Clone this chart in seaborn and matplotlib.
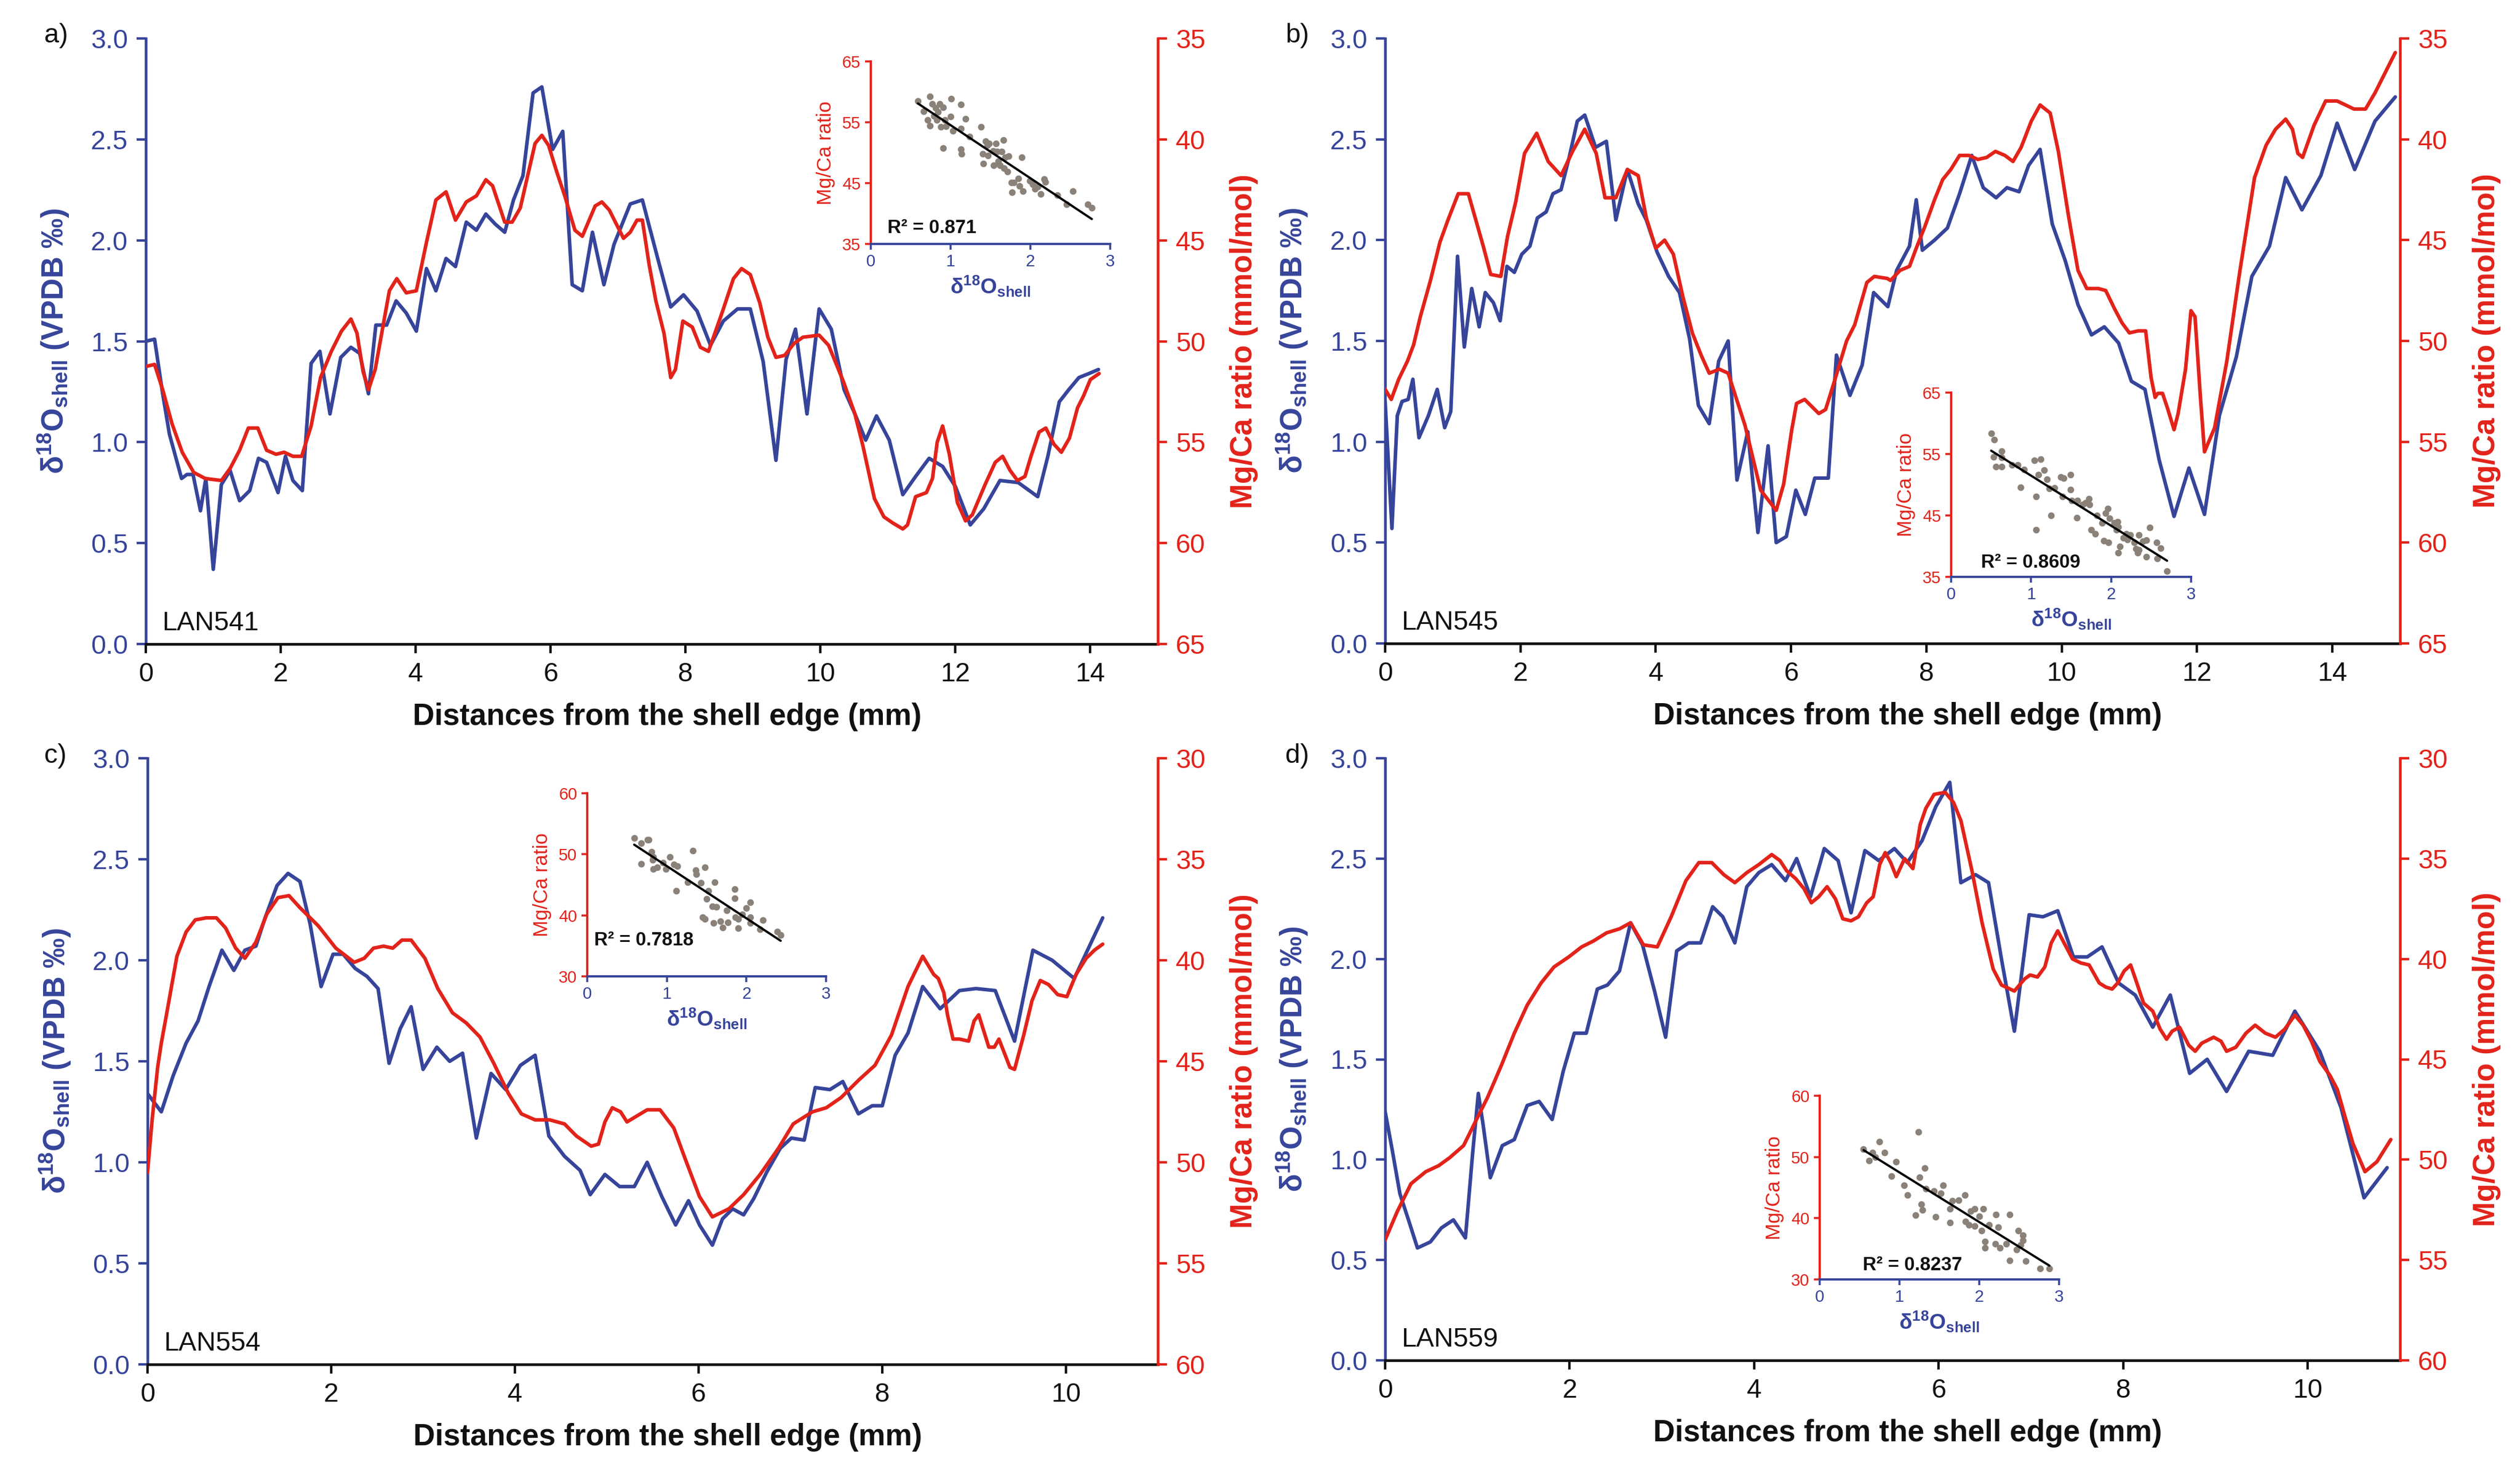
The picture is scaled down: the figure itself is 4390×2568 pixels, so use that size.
import numpy as np
import pandas as pd
import matplotlib
matplotlib.use("Agg")
import matplotlib.pyplot as plt
import seaborn as sns

# ---------------- DATA ----------------
# Panel a) LAN541
a_d18O = [(0,1.50),(0.13,1.51),(0.25,1.24),(0.35,1.04),(0.53,0.82),(0.61,0.84),(0.70,0.84),(0.81,0.66),(0.89,0.82),(1.00,0.37),
          (1.12,0.79),(1.25,0.86),(1.39,0.71),(1.54,0.76),(1.67,0.92),(1.79,0.90),(1.96,0.75),(2.07,0.93),(2.18,0.81),(2.32,0.76),
          (2.45,1.39),(2.58,1.45),(2.73,1.14),(2.89,1.42),(3.04,1.47),(3.17,1.44),(3.30,1.24),(3.41,1.58),(3.57,1.58),(3.71,1.70),
          (3.86,1.64),(4.01,1.55),(4.16,1.86),(4.30,1.75),(4.45,1.91),(4.59,1.87),(4.75,2.09),(4.90,2.05),(5.04,2.13),(5.18,2.08),
          (5.32,2.04),(5.45,2.20),(5.59,2.32),(5.74,2.73),(5.87,2.76),(6.03,2.45),(6.18,2.54),(6.32,1.78),(6.47,1.75),(6.62,2.04),
          (6.79,1.78),(6.94,1.98),(7.18,2.18),(7.36,2.20),(7.58,1.92),(7.78,1.67),(7.97,1.73),(8.17,1.65),(8.37,1.48),(8.56,1.60),
          (8.77,1.66),(8.96,1.66),(9.15,1.40),(9.34,0.91),(9.49,1.41),(9.63,1.56),(9.80,1.14),(9.98,1.66),(10.16,1.56),(10.35,1.26),
          (10.51,1.14),(10.67,1.01),(10.83,1.13),(11.02,1.01),(11.22,0.74),(11.41,0.83),(11.61,0.92),(11.81,0.88),(12.00,0.78),(12.22,0.59),
          (12.42,0.67),(12.66,0.81),(12.93,0.80),(13.22,0.73),(13.37,0.93),(13.54,1.20),(13.68,1.26),(13.83,1.32),(13.98,1.34),(14.12,1.36)]
a_mgca = [(0,51.25),(0.13,51.15),(0.25,52.4),(0.39,54.1),(0.54,55.5),(0.71,56.5),(0.88,56.8),(1.12,56.9),(1.25,56.3),(1.39,55.4),
          (1.52,54.3),(1.66,54.3),(1.79,55.4),(1.93,55.6),(2.05,55.5),(2.18,55.7),(2.31,55.7),(2.45,54.2),(2.59,51.8),(2.75,50.5),
          (2.90,49.5),(3.04,48.9),(3.13,49.6),(3.22,51.5),(3.30,52.4),(3.40,51.4),(3.61,47.5),(3.72,46.9),(3.86,47.6),(4.01,47.5),
          (4.16,45.1),(4.30,43.0),(4.45,42.6),(4.59,44.0),(4.75,43.1),(4.90,42.8),(5.04,42.0),(5.14,42.3),(5.32,44.1),(5.43,44.1),
          (5.55,43.4),(5.77,40.2),(5.87,39.8),(5.97,40.3),(6.09,41.6),(6.21,42.8),(6.36,44.5),(6.47,44.8),(6.66,43.3),(6.76,43.1),
          (6.87,43.5),(7.08,44.9),(7.18,44.6),(7.28,44.0),(7.36,44.0),(7.46,46.2),(7.56,48.0),(7.62,48.8),(7.68,49.6),(7.78,51.8),
          (7.85,51.4),(7.96,49.0),(8.10,49.3),(8.22,50.3),(8.34,50.5),(8.54,48.6),(8.71,46.9),(8.83,46.4),(8.96,46.7),(9.10,48.1),
          (9.22,49.8),(9.34,50.8),(9.47,50.7),(9.61,50.1),(9.74,49.8),(9.98,49.7),(10.12,50.2),(10.34,52.0),(10.51,53.6),(10.63,55.2),
          (10.80,57.8),(10.94,58.7),(11.07,59.0),(11.22,59.3),(11.29,59.1),(11.41,57.7),(11.57,57.5),(11.66,56.8),(11.73,55.0),(11.81,54.2),
          (11.91,55.6),(12.03,58.0),(12.15,58.9),(12.25,58.6),(12.44,57.1),(12.59,56.0),(12.70,55.7),(12.81,56.4),(12.92,56.9),(13.03,56.7),
          (13.12,55.7),(13.24,54.5),(13.34,54.3),(13.46,55.1),(13.57,55.5),(13.69,54.8),(13.81,53.3),(13.90,52.7),(14.00,51.9),(14.13,51.6)]
a_scatter = [(0.59,58.5),(0.66,56.8),(0.71,55.4),(0.74,59.2),(0.74,54.4),(0.77,58.0),(0.79,56.0),(0.81,57.4),(0.83,55.4),(0.84,56.7),
             (0.86,58.0),(0.88,54.2),(0.91,57.5),(0.91,50.8),(0.93,55.4),(0.94,54.3),(1.00,55.9),(1.01,58.9),(1.03,53.6),(1.13,57.9),
             (1.13,54.0),(1.13,50.6),(1.14,49.8),(1.19,55.6),(1.24,52.6),(1.38,54.2),(1.40,49.8),(1.41,48.2),(1.44,51.9),(1.46,51.2),
             (1.47,49.5),(1.48,51.5),(1.53,50.3),(1.54,47.9),(1.57,51.5),(1.58,50.2),(1.60,48.6),(1.62,47.9),(1.64,50.2),(1.66,52.1),
             (1.67,47.5),(1.68,49.2),(1.71,46.9),(1.73,49.4),(1.76,45.1),(1.77,43.5),(1.79,45.1),(1.85,45.8),(1.86,44.5),(1.89,49.2),
             (1.91,43.7),(1.99,45.4),(2.03,44.8),(2.06,44.1),(2.09,44.4),(2.13,43.2),(2.17,45.7),(2.19,45.2),(2.34,43.0),(2.45,41.5),
             (2.53,43.7),(2.72,41.5),(2.77,40.9)]

# Panel b) LAN545
b_d18O = [(0,1.20),(0.10,0.57),(0.18,1.13),(0.25,1.20),(0.34,1.21),(0.41,1.31),(0.50,1.02),(0.64,1.13),(0.77,1.26),(0.88,1.07),
          (0.97,1.15),(1.07,1.92),(1.17,1.47),(1.28,1.76),(1.39,1.57),(1.48,1.74),(1.60,1.69),(1.70,1.60),(1.80,1.87),(1.91,1.84),
          (2.02,1.93),(2.14,1.97),(2.25,2.11),(2.38,2.14),(2.48,2.23),(2.60,2.25),(2.72,2.41),(2.84,2.59),(2.95,2.62),(3.11,2.46),
          (3.27,2.49),(3.41,2.10),(3.58,2.35),(3.74,2.18),(3.86,2.10),(4.02,1.94),(4.19,1.82),(4.35,1.74),(4.50,1.51),(4.63,1.18),
          (4.79,1.09),(4.93,1.40),(5.07,1.50),(5.20,0.81),(5.36,1.05),(5.51,0.55),(5.66,0.98),(5.78,0.50),(5.93,0.53),(6.07,0.76),
          (6.21,0.64),(6.35,0.82),(6.55,0.82),(6.67,1.43),(6.87,1.23),(7.05,1.38),(7.22,1.74),(7.43,1.67),(7.56,1.85),(7.75,1.97),
          (7.85,2.20),(7.94,1.95),(8.12,2.00),(8.31,2.06),(8.49,2.23),(8.67,2.42),(8.84,2.26),(9.03,2.21),(9.19,2.26),(9.37,2.24),
          (9.51,2.37),(9.68,2.45),(9.86,2.08),(10.05,1.90),(10.24,1.68),(10.44,1.53),(10.63,1.57),(10.84,1.49),(11.03,1.30),(11.23,1.26),
          (11.44,0.91),(11.66,0.63),(11.88,0.87),(12.11,0.64),(12.33,1.13),(12.58,1.42),(12.81,1.82),(13.07,1.97),(13.31,2.31),(13.55,2.15),
          (13.83,2.32),(14.07,2.58),(14.33,2.35),(14.63,2.59),(14.93,2.71)]
b_mgca = [(0,52.4),(0.09,52.9),(0.20,51.9),(0.33,51.0),(0.42,50.2),(0.52,48.8),(0.67,47.0),(0.81,45.1),(0.94,43.9),(1.08,42.7),
          (1.23,42.7),(1.34,44.0),(1.45,45.3),(1.56,46.7),(1.71,46.8),(1.81,44.8),(1.93,43.1),(2.06,40.7),(2.24,39.7),(2.41,41.1),
          (2.60,41.8),(2.77,40.6),(2.95,39.5),(3.12,40.7),(3.25,42.9),(3.41,42.9),(3.58,41.5),(3.74,41.8),(3.86,43.9),(4.00,45.4),
          (4.13,45.0),(4.26,45.7),(4.40,47.8),(4.54,49.6),(4.67,50.7),(4.79,51.6),(4.94,51.4),(5.07,51.6),(5.32,54.2),(5.55,57.4),
          (5.78,58.4),(5.89,57.1),(6.01,54.4),(6.08,53.1),(6.20,52.9),(6.41,53.6),(6.51,53.4),(6.64,52.0),(6.82,50.0),(6.94,49.2),
          (7.12,47.1),(7.23,46.8),(7.42,46.9),(7.47,47.0),(7.61,46.5),(7.75,46.3),(7.85,45.4),(7.98,44.3),(8.12,43.0),(8.24,42.0),
          (8.36,41.5),(8.49,40.8),(8.63,40.8),(8.76,41.0),(8.89,40.9),(9.02,40.6),(9.16,40.8),(9.28,41.1),(9.40,40.4),(9.55,39.1),
          (9.68,38.3),(9.83,38.7),(9.95,40.6),(10.10,43.8),(10.24,46.5),(10.37,47.4),(10.54,47.4),(10.65,47.5),(10.78,48.4),(10.89,49.1),
          (11.00,49.6),(11.13,49.5),(11.24,49.5),(11.32,51.8),(11.38,52.8),(11.42,52.6),(11.49,52.6),(11.56,53.3),(11.66,54.4),(11.72,53.6),
          (11.83,51.4),(11.91,48.5),(11.97,48.8),(12.05,52.8),(12.11,55.5),(12.26,54.3),(12.44,51.0),(12.63,46.6),(12.85,41.9),(13.02,40.3),
          (13.16,39.5),(13.31,39.0),(13.41,39.5),(13.49,40.7),(13.56,40.9),(13.73,39.3),(13.90,38.1),(14.07,38.1),(14.32,38.5),(14.49,38.5),
          (14.63,37.7),(14.93,35.7)]
b_scatter = [(0.50,58.4),(0.54,57.3),(0.53,54.5),(0.56,52.9),(0.63,55.5),(0.63,52.9),(0.63,54.4),(0.76,53.2),(0.83,53.2),(0.91,52.5),
             (0.87,49.6),(1.04,54.0),(1.12,54.2),(1.06,48.1),(1.06,42.7),(1.09,51.6),(1.16,52.4),(1.20,50.9),(1.23,49.4),(1.25,45.0),
             (1.29,49.5),(1.37,51.3),(1.41,51.1),(1.39,48.1),(1.49,51.6),(1.49,49.2),(1.51,47.4),(1.57,44.6),(1.58,47.4),(1.64,46.8),
             (1.68,47.1),(1.72,47.7),(1.73,46.8),(1.75,42.7),(1.80,42.0),(1.82,45.0),(1.89,43.8),(1.91,40.9),(1.93,45.4),(1.96,46.1),
             (1.97,40.6),(1.98,44.5),(2.04,43.8),(2.07,42.7),(2.08,44.0),(2.09,43.1),(2.09,38.9),(2.11,40.0),(2.15,41.4),(2.19,42.0),
             (2.20,41.1),(2.24,41.8),(2.29,40.6),(2.31,39.6),(2.33,38.9),(2.35,41.8),(2.35,39.4),(2.40,40.8),(2.44,41.0),(2.44,38.3),
             (2.48,43.0),(2.57,40.6),(2.58,38.0),(2.62,39.7),(2.70,35.9)]

# Panel c) LAN554
c_d18O = [(0,1.34),(0.15,1.25),(0.28,1.43),(0.42,1.59),(0.55,1.70),(0.67,1.87),(0.81,2.05),(0.94,1.95),(1.06,2.05),(1.18,2.07),
          (1.28,2.21),(1.41,2.37),(1.53,2.43),(1.66,2.39),(1.77,2.18),(1.89,1.87),(2.02,2.03),(2.13,2.03),(2.26,1.96),(2.39,1.92),
          (2.51,1.86),(2.63,1.49),(2.75,1.66),(2.87,1.77),(3.00,1.46),(3.15,1.57),(3.29,1.50),(3.43,1.54),(3.58,1.12),(3.74,1.44),
          (3.90,1.36),(4.06,1.48),(4.22,1.53),(4.37,1.13),(4.54,1.03),(4.71,0.96),(4.82,0.84),(4.98,0.94),(5.14,0.88),(5.30,0.88),
          (5.44,1.00),(5.60,0.83),(5.75,0.69),(5.89,0.81),(6.01,0.69),(6.15,0.59),(6.26,0.72),(6.37,0.77),(6.49,0.74),(6.60,0.82),
          (6.74,0.95),(6.89,1.07),(7.01,1.12),(7.15,1.11),(7.27,1.37),(7.43,1.36),(7.57,1.40),(7.74,1.24),(7.89,1.28),(8.00,1.28),
          (8.14,1.53),(8.28,1.64),(8.44,1.87),(8.63,1.76),(8.84,1.85),(9.02,1.86),(9.23,1.85),(9.44,1.60),(9.64,2.05),(9.85,2.00),
          (10.09,1.91),(10.40,2.21)]
c_mgca = [(0,50.5),(0.05,47.9),(0.11,45.3),(0.15,44.1),(0.21,42.6),(0.32,39.8),(0.42,38.6),(0.52,38.0),(0.64,37.9),(0.75,37.9),
          (0.85,38.4),(0.96,39.4),(1.06,39.9),(1.18,39.1),(1.30,37.7),(1.42,36.9),(1.54,36.8),(1.66,37.4),(1.86,38.3),(2.05,39.4),
          (2.25,40.1),(2.36,39.9),(2.46,39.4),(2.57,39.3),(2.67,39.4),(2.77,39.0),(2.87,39.0),(3.02,39.9),(3.16,41.4),(3.32,42.6),
          (3.47,43.1),(3.62,43.8),(3.77,45.1),(3.93,46.6),(4.07,47.6),(4.22,47.9),(4.38,47.9),(4.54,48.1),(4.67,48.7),(4.83,49.2),
          (4.91,49.1),(4.98,48.0),(5.06,47.3),(5.15,47.5),(5.22,48.0),(5.44,47.4),(5.58,47.4),(5.73,48.3),(5.86,49.9),(6.01,51.7),
          (6.15,52.7),(6.33,52.3),(6.49,51.6),(6.67,50.6),(6.87,49.3),(7.03,48.1),(7.24,47.5),(7.39,47.3),(7.55,46.8),(7.75,45.9),
          (7.92,45.2),(8.10,43.7),(8.28,41.3),(8.44,39.8),(8.56,40.7),(8.61,40.9),(8.67,41.6),(8.71,42.7),(8.77,43.9),(8.84,43.9),
          (8.94,44.0),(9.00,43.0),(9.05,42.7),(9.16,44.3),(9.22,44.3),(9.27,43.9),(9.33,44.6),(9.39,45.3),(9.44,45.4),(9.54,43.7),
          (9.63,42.0),(9.72,41.0),(9.81,41.2),(9.91,41.7),(10.01,41.8),(10.11,40.7),(10.22,39.9),(10.31,39.5),(10.40,39.2)]
c_scatter = [(0.59,52.7),(0.68,51.8),(0.76,52.4),(0.68,48.4),(0.83,49.6),(0.83,47.6),(0.77,52.4),(0.81,50.4),(0.82,49.1),(0.88,47.9),
             (0.95,48.6),(0.99,47.6),(1.04,49.6),(1.09,48.3),(1.13,48.1),(1.12,44.0),(1.26,45.4),(1.33,50.6),(1.36,47.4),(1.37,46.7),
             (1.43,45.3),(1.48,47.9),(1.52,44.0),(1.50,42.7),(1.45,39.7),(1.48,39.4),(1.57,41.5),(1.62,41.4),(1.60,45.4),(1.59,38.7),
             (1.67,39.0),(1.70,38.0),(1.75,40.8),(1.77,38.8),(1.85,44.3),(1.85,42.8),(1.86,39.7),(1.90,37.9),(1.90,39.4),(1.95,40.2),
             (2.00,41.2),(2.05,42.1),(2.05,39.7),(2.05,38.7),(2.17,37.7),(2.21,39.2),(2.39,37.3),(2.43,36.8)]

# Panel d) LAN559
d_d18O = [(0,1.24),(0.08,1.04),(0.16,0.83),(0.26,0.69),(0.35,0.56),(0.49,0.59),(0.61,0.66),(0.74,0.70),(0.87,0.61),(0.95,1.04),
          (1.01,1.33),(1.06,1.18),(1.14,0.91),(1.27,1.07),(1.40,1.10),(1.54,1.27),(1.67,1.29),(1.81,1.20),(1.93,1.44),(2.05,1.63),
          (2.18,1.63),(2.30,1.85),(2.41,1.87),(2.54,1.94),(2.66,2.18),(2.79,2.07),(2.92,1.84),(3.04,1.61),(3.16,2.04),(3.29,2.08),
          (3.42,2.08),(3.55,2.26),(3.66,2.21),(3.79,2.08),(3.92,2.36),(4.05,2.43),(4.19,2.47),(4.34,2.39),(4.46,2.50),(4.61,2.31),
          (4.76,2.55),(4.91,2.49),(5.05,2.23),(5.20,2.54),(5.35,2.49),(5.52,2.55),(5.66,2.48),(5.82,2.59),(5.97,2.76),(6.12,2.88),
          (6.24,2.38),(6.40,2.42),(6.54,2.38),(6.68,2.00),(6.82,1.64),(6.98,2.22),(7.13,2.21),(7.29,2.24),(7.46,2.01),(7.61,2.01),
          (7.77,2.06),(7.95,1.88),(8.13,1.82),(8.32,1.66),(8.51,1.82),(8.72,1.43),(8.91,1.50),(9.12,1.34),(9.36,1.54),(9.62,1.52),
          (9.86,1.74),(10.13,1.54),(10.36,1.26),(10.61,0.81),(10.86,0.96)]
d_mgca = [(0,54.0),(0.13,52.6),(0.28,51.2),(0.44,50.6),(0.58,50.3),(0.70,49.9),(0.85,49.3),(0.99,48.0),(1.11,46.9),(1.26,45.3),
          (1.40,43.7),(1.54,42.3),(1.69,41.2),(1.83,40.4),(1.99,39.9),(2.13,39.4),(2.26,39.1),(2.40,38.7),(2.54,38.5),(2.66,38.2),
          (2.80,39.3),(2.95,39.4),(3.10,37.9),(3.26,36.1),(3.40,35.2),(3.54,35.2),(3.67,35.8),(3.79,36.2),(3.92,35.7),(4.05,35.3),
          (4.19,34.8),(4.28,35.1),(4.35,35.6),(4.45,36.0),(4.54,36.5),(4.62,37.2),(4.70,36.9),(4.79,36.4),(4.88,37.0),(4.96,38.0),
          (5.05,38.1),(5.13,37.9),(5.22,37.2),(5.29,36.9),(5.36,35.3),(5.42,34.7),(5.48,35.2),(5.54,35.9),(5.63,35.0),(5.72,35.5),
          (5.80,33.3),(5.86,32.5),(5.95,31.8),(6.07,31.7),(6.16,32.2),(6.24,33.1),(6.36,35.6),(6.47,38.2),(6.59,40.5),(6.68,41.3),
          (6.82,41.6),(6.93,41.0),(6.99,40.8),(7.07,40.9),(7.15,40.4),(7.22,39.2),(7.29,38.6),(7.37,39.3),(7.45,40.0),(7.54,40.2),
          (7.63,40.3),(7.74,41.2),(7.81,41.4),(7.88,41.5),(7.94,41.2),(8.01,40.6),(8.08,40.3),(8.14,41.1),(8.22,42.2),(8.32,42.6),
          (8.40,43.5),(8.47,44.0),(8.53,43.6),(8.61,43.4),(8.71,44.3),(8.78,44.6),(8.85,44.2),(8.98,43.9),(9.06,44.1),(9.12,44.6),
          (9.22,44.4),(9.33,43.7),(9.43,43.3),(9.54,43.7),(9.65,43.9),(9.75,43.5),(9.86,42.8),(9.95,43.3),(10.04,44.1),(10.13,45.1),
          (10.24,45.8),(10.32,46.5),(10.40,47.8),(10.49,49.2),(10.62,50.6),(10.75,50.1),(10.90,49.0)]
d_scatter = [(0.55,51.3),(0.62,49.4),(0.66,50.7),(0.70,50.0),(0.75,52.5),(0.81,50.7),(0.90,46.9),(0.96,49.2),(1.06,45.4),(1.10,43.8),
             (1.20,40.5),(1.24,54.1),(1.25,46.7),(1.27,42.3),(1.29,41.3),(1.32,48.2),(1.33,44.8),(1.43,44.4),(1.45,40.2),(1.52,44.1),
             (1.55,45.4),(1.63,41.5),(1.63,39.3),(1.66,42.8),(1.74,42.9),(1.82,43.8),(1.83,39.5),(1.87,38.9),(1.89,41.2),(1.94,38.7),
             (1.94,41.5),(2.00,40.3),(2.03,38.0),(2.05,41.5),(2.07,36.2),(2.07,35.2),(2.12,38.9),(2.20,35.8),(2.21,40.6),(2.24,38.5),
             (2.26,35.2),(2.34,35.8),(2.38,40.6),(2.38,33.1),(2.47,34.9),(2.49,38.0),(2.52,35.6),(2.55,37.2),(2.55,36.4),(2.58,33.0),
             (2.76,31.8),(2.88,31.8)]

panel_letters = ["a)", "b)", "c)", "d)"]
sample_names = ["LAN541", "LAN545", "LAN554", "LAN559"]
r2_labels = ["R\u00b2 = 0.871", "R\u00b2 = 0.8609", "R\u00b2 = 0.7818", "R\u00b2 = 0.8237"]
left_ticks = [0.0, 0.5, 1.0, 1.5, 2.0, 2.5, 3.0]
right_ticks_ab = [35, 40, 45, 50, 55, 60, 65]
right_ticks_cd = [30, 35, 40, 45, 50, 55, 60]
inset_ticks_ab = [35, 45, 55, 65]
inset_ticks_cd = [30, 40, 50, 60]
x_ticks_ab = [0, 2, 4, 6, 8, 10, 12, 14]
x_ticks_cd = [0, 2, 4, 6, 8, 10]

# ---------------- STYLE ----------------
sns.set_theme(style="white")
plt.rcParams["font.family"] = ["Liberation Sans", "DejaVu Sans"]
plt.rcParams["mathtext.fontset"] = "custom"
plt.rcParams["mathtext.rm"] = "Liberation Sans"
plt.rcParams["mathtext.bf"] = "Liberation Sans:bold"
plt.rcParams["mathtext.it"] = "Liberation Sans:italic"

BLUE = "#36449A"
RED = "#E2231A"
GREY = "#8A8179"

W, H = 4390, 2568
DPI = 280
fig = plt.figure(figsize=(W / DPI, H / DPI), dpi=DPI)

def px_rect(x0, y0, x1, y1):
    return [x0 / W, 1 - y1 / H, (x1 - x0) / W, (y1 - y0) / H]

panels = [
    dict(d18=a_d18O, mg=a_mgca, sc=a_scatter, rect=px_rect(254, 67, 2017, 1122),
         inset=px_rect(1517, 107, 1934, 425), rlim=(65, 35), rticks=right_ticks_ab,
         ilim=(35, 65), iticks=inset_ticks_ab, xmax=15, xticks=x_ticks_ab,
         r2pos=(0.07, 0.085), letter_pos=(77, 62)),
    dict(d18=b_d18O, mg=b_mgca, sc=b_scatter, rect=px_rect(2413, 67, 4181, 1121),
         inset=px_rect(3399, 684, 3817, 1005), rlim=(65, 35), rticks=right_ticks_ab,
         ilim=(35, 65), iticks=inset_ticks_ab, xmax=15, xticks=x_ticks_ab,
         r2pos=(0.124, 0.075), letter_pos=(2239, 62)),
    dict(d18=c_d18O, mg=c_mgca, sc=c_scatter, rect=px_rect(257, 1321, 2017, 2377),
         inset=px_rect(1023, 1382, 1439, 1701), rlim=(60, 30), rticks=right_ticks_cd,
         ilim=(30, 60), iticks=inset_ticks_cd, xmax=11, xticks=x_ticks_cd,
         r2pos=(0.028, 0.195), letter_pos=(77, 1317)),
    dict(d18=d_d18O, mg=d_mgca, sc=d_scatter, rect=px_rect(2413, 1321, 4181, 2370),
         inset=px_rect(3170, 1909, 3587, 2229), rlim=(60, 30), rticks=right_ticks_cd,
         ilim=(30, 60), iticks=inset_ticks_cd, xmax=11, xticks=x_ticks_cd,
         r2pos=(0.18, 0.077), letter_pos=(2239, 1317)),
]

d18_label = r"$\mathbf{\delta^{18}O_{shell}}$" + " (VPDB \u2030)"
for i, p in enumerate(panels):
    df_o = pd.DataFrame(p["d18"], columns=["dist", "d18O"])
    df_m = pd.DataFrame(p["mg"], columns=["dist", "mgca"])
    df_s = pd.DataFrame(p["sc"], columns=["d18O", "mgca"])

    ax = fig.add_axes(p["rect"])
    ax2 = ax.twinx()
    sns.lineplot(data=df_o, x="dist", y="d18O", ax=ax, color=BLUE, lw=1.6,
                 estimator=None, sort=False, legend=False)
    sns.lineplot(data=df_m, x="dist", y="mgca", ax=ax2, color=RED, lw=1.6,
                 estimator=None, sort=False, legend=False)

    ax.set_xlim(0, p["xmax"])
    ax.set_ylim(0, 3.0)
    ax.set_xticks(p["xticks"])
    ax.set_yticks(left_ticks)
    ax.set_yticklabels([f"{v:.1f}" for v in left_ticks])
    ax2.set_ylim(*p["rlim"])
    ax2.set_yticks(p["rticks"])

    for sp in ["top", "right"]:
        ax.spines[sp].set_visible(False)
    ax.spines["left"].set_color(BLUE)
    ax.spines["bottom"].set_color("#111111")
    for sp in ["top", "left", "bottom"]:
        ax2.spines[sp].set_visible(False)
    ax2.spines["right"].set_color(RED)
    for s in [ax.spines["left"], ax.spines["bottom"], ax2.spines["right"]]:
        s.set_linewidth(1.2)

    ax.tick_params(axis="y", colors=BLUE, direction="out", length=4, width=1.1,
                   labelsize=12, left=True, pad=4)
    ax.tick_params(axis="x", colors="#111111", direction="out", length=4, width=1.1,
                   labelsize=12, bottom=True, pad=4)
    ax2.tick_params(axis="y", colors=RED, direction="out", length=4, width=1.1,
                    labelsize=12, right=True, pad=4)

    ax.set_xlabel("Distances from the shell edge (mm)", fontsize=13.5,
                  fontweight="bold", color="#111111")
    ax.xaxis.set_label_coords(0.515, -0.097)
    ax.set_ylabel(d18_label, fontsize=13.5, fontweight="bold", color=BLUE)
    ax.yaxis.set_label_coords(-0.074, 0.5)
    ax2.set_ylabel("Mg/Ca ratio (mmol/mol)", fontsize=13.5, fontweight="bold", color=RED)
    ax2.yaxis.set_label_coords(1.071, 0.5)

    ax.text(0.016, 0.034, sample_names[i], transform=ax.transAxes, fontsize=12,
            ha="left", va="center", color="#111111")
    lx, ly = p["letter_pos"]
    fig.text(lx / W, 1 - ly / H, panel_letters[i], fontsize=12, ha="left",
             va="center", color="#111111")

    # inset scatter
    ins = fig.add_axes(p["inset"])
    sns.scatterplot(data=df_s, x="d18O", y="mgca", ax=ins, color=GREY, s=9,
                    linewidth=0, edgecolor=None, legend=False, zorder=2)
    sns.regplot(data=df_s, x="d18O", y="mgca", ax=ins, scatter=False, ci=None,
                color="black", line_kws={"lw": 1.0, "zorder": 3})
    ins.set_xlim(0, 3)
    ins.set_ylim(*p["ilim"])
    ins.set_xticks([0, 1, 2, 3])
    ins.set_yticks(p["iticks"])
    ins.patch.set_alpha(0)
    for sp in ["top", "right"]:
        ins.spines[sp].set_visible(False)
    ins.spines["left"].set_color(RED)
    ins.spines["bottom"].set_color(BLUE)
    ins.spines["left"].set_linewidth(1.0)
    ins.spines["bottom"].set_linewidth(1.0)
    ins.tick_params(axis="y", colors=RED, direction="out", length=2.5, width=0.9,
                    labelsize=7.5, left=True, pad=2)
    ins.tick_params(axis="x", colors=BLUE, direction="out", length=2.5, width=0.9,
                    labelsize=7.5, bottom=True, pad=2)
    ins.set_ylabel("Mg/Ca ratio", fontsize=9, color=RED, labelpad=3)
    ins.set_xlabel(r"$\mathbf{\delta^{18}O_{shell}}$", fontsize=9.5, color=BLUE, labelpad=2)
    ins.text(p["r2pos"][0], p["r2pos"][1], r2_labels[i], transform=ins.transAxes,
             fontsize=8.5, fontweight="bold", ha="left", va="center", color="#111111")

fig.savefig("out.png", dpi=DPI)
